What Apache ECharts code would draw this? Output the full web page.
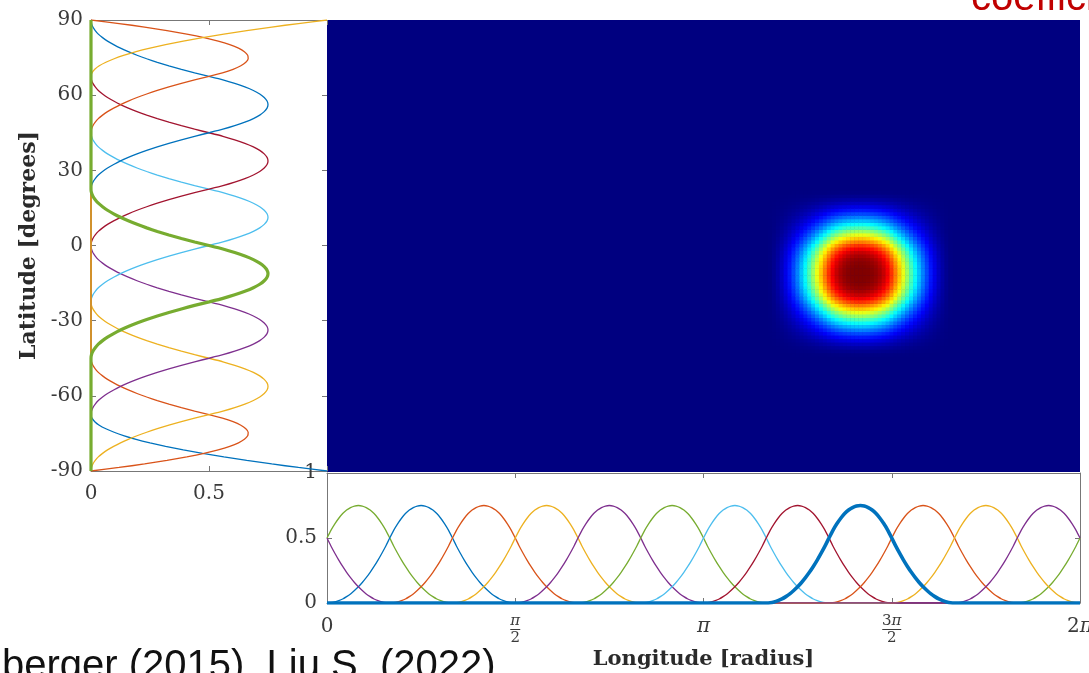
<!DOCTYPE html>
<html lang="en">
<head>
    <meta charset="UTF-8">
    <title>basis functions</title>
    <script src="https://cdn.jsdelivr.net/npm/echarts@6.0.0/dist/echarts.min.js"></script>
    <style>
        body {
            margin: 0;
            background: #fff;
        }

        #chart {
            width: 1089px;
            height: 673px;
        }
    </style>
</head>
<body>
    <div id="chart"></div>

    <script>
        // sampling: 16 samples per knot interval (22.5 deg in latitude, pi/6 in longitude)
        const SPK = 16
        const LAT_STEP = 22.5 / SPK
        const LON_STEP = Math.PI / 6 / SPK

        // shapes, one value per sample
        const midShape = [0, 0.002, 0.008, 0.018, 0.031, 0.049, 0.07, 0.096, 0.125, 0.158, 0.195, 0.236, 0.281, 0.33, 0.383, 0.439,
            0.5, 0.559, 0.609, 0.652, 0.688, 0.715, 0.734, 0.746, 0.75, 0.746, 0.734, 0.715, 0.688, 0.652, 0.609, 0.559,
            0.5, 0.439, 0.383, 0.33, 0.281, 0.236, 0.195, 0.158, 0.125, 0.096, 0.07, 0.049, 0.031, 0.018, 0.008, 0.002, 0]
        const poleShape = [1, 0.879, 0.766, 0.66, 0.563, 0.473, 0.391, 0.316, 0.25, 0.191, 0.141, 0.098, 0.063, 0.035, 0.016, 0.004, 0]
        const nearPoleShape = [0, 0.119, 0.227, 0.322, 0.406, 0.479, 0.539, 0.588, 0.625, 0.65, 0.664, 0.666, 0.656, 0.635, 0.602, 0.557,
            0.5, 0.439, 0.383, 0.33, 0.281, 0.236, 0.195, 0.158, 0.125, 0.096, 0.07, 0.049, 0.031, 0.018, 0.008, 0.002, 0]

        // latitude curves, south to north
        const latStart = [-90, -90, -90, -67.5, -45, -22.5, 0, 22.5, 45, 67.5]
        const latShape = [poleShape, nearPoleShape, midShape, midShape, midShape, midShape, midShape, midShape,
            [...nearPoleShape].reverse(), [...poleShape].reverse()]
        const latColor = ['#0072BD', '#D95319', '#EDB120', '#7E2F8E', '#77AC30', '#4DBEEE', '#A2142F', '#0072BD', '#D95319', '#EDB120']
        const latThick = 4

        // longitude curves (periodic), start in knot steps of pi/6
        const lonStart = [-1, 0, 1, 2, 3, 4, 5, 6, 7, 8, 9, 10]
        const lonColor = ['#77AC30', '#0072BD', '#D95319', '#EDB120', '#7E2F8E', '#77AC30', '#4DBEEE', '#A2142F', '#0072BD', '#D95319', '#EDB120', '#7E2F8E']
        const lonThick = 8

        const lonTickLabels = ['0', 'π/2', 'π', '3π/2', '2π']

        const NLAT = 8 * SPK
        const NLON = 12 * SPK
        const latGrid = []
        for (let j = 0; j <= NLAT; j++) latGrid.push(-90 + j * LAT_STEP)
        const lonGrid = []
        for (let i = 0; i <= NLON; i++) lonGrid.push(i * LON_STEP)

        function latValues(n) {
            let arr = new Array(latGrid.length).fill(0)
            let s = Math.round((latStart[n] + 90) / LAT_STEP)
            latShape[n].forEach((v, i) => arr[s + i] = v)
            return arr
        }

        function lonValues(k) {
            let arr = new Array(lonGrid.length).fill(0)
            let s = lonStart[k] * SPK
            midShape.forEach((v, i) => arr[((s + i) % NLON + NLON) % NLON] = v)
            arr[NLON] = arr[0]
            return arr
        }

        const latVals = latStart.map((_, n) => latValues(n))
        const lonVals = lonStart.map((_, k) => lonValues(k))

        // map = product of the two highlighted curves
        const heat = []
        for (let i = 0; i < NLON; i++) {
            for (let j = 0; j < NLAT; j++) {
                let v = lonVals[lonThick][i] * latVals[latThick][j]
                if (v > 0) heat.push([i, j, v])
            }
        }

        // jet colour scale, a bit stretched so the rings sit like in the original image
        function jet(t) {
            let c = x => Math.round(255 * Math.max(0, Math.min(1, x)))
            let r = c(1.5 - Math.abs(4 * t - 3)), g = c(1.5 - Math.abs(4 * t - 2)), b = c(1.5 - Math.abs(4 * t - 1))
            return 'rgb(' + r + ',' + g + ',' + b + ')'
        }
        const jetStops = []
        for (let k = 0; k <= 40; k++) jetStops.push(jet(1 - Math.pow(1 - k / 40, 1.6)))

        const serif = '"DejaVu Serif"'
        const lineCol = '#777'
        const txtCol = '#3a3a3a'

        // pi in italic, like the latex labels
        function piText(s, up, it) {
            return s.split('').map(c => c === 'π' ? '{' + it + '|π}' : '{' + up + '|' + c + '}').join('')
        }

        function fracLabel(v) {
            let s = lonTickLabels[Math.round(v / (Math.PI / 2))]
            if (s === undefined) return ''
            if (s.indexOf('/') < 0) return piText(s, 'a', 'ai')
            let p = s.split('/')
            return piText(p[0], 'n', 'ni') + '\n{' + (p[0].length > 1 ? 'bar2' : 'bar') + '| }\n{d|' + p[1] + '}'
        }

        let series = [{
            type: 'heatmap',
            xAxisIndex: 3,
            yAxisIndex: 3,
            data: heat,
            itemStyle: { borderWidth: 0 },
            emphasis: { disabled: true }
        }]

        let latOrder = latStart.map((_, n) => n).filter(n => n !== latThick).concat([latThick])
        latOrder.forEach(n => {
            series.push({
                type: 'line',
                xAxisIndex: 0,
                yAxisIndex: 0,
                showSymbol: false,
                smooth: 0.2,
                data: latGrid.map((lat, j) => [latVals[n][j], lat]),
                lineStyle: { color: latColor[n], width: n === latThick ? 3.2 : 1.3 },
                z: n === latThick ? 4 : 3
            })
        })

        let lonOrder = lonStart.map((_, k) => k).filter(k => k !== lonThick).concat([lonThick])
        lonOrder.forEach(k => {
            series.push({
                type: 'line',
                xAxisIndex: 4,
                yAxisIndex: 4,
                showSymbol: false,
                smooth: 0.2,
                data: lonGrid.map((x, i) => [x, lonVals[k][i]]),
                lineStyle: { color: lonColor[k], width: k === lonThick ? 3.6 : 1.3 },
                z: k === lonThick ? 4 : 3
            })
        })

        const tickIn = { show: true, inside: true, length: 5, lineStyle: { color: lineCol } }
        const axLine = { show: true, onZero: false, lineStyle: { color: lineCol, width: 1 } }
        const noLine = { show: false, onZero: false }
        const lbl = { color: txtCol, fontFamily: serif, fontSize: 20 }
        const nameStyle = { color: '#2a2a2a', fontFamily: serif, fontWeight: 'bold', fontSize: 21 }

        var myChart = echarts.init(document.getElementById('chart'))
        var option = {
            animation: false,
            grid: [
                { left: 91, top: 20, width: 236, height: 451, outerBoundsMode: 'none' },
                { left: 327, top: 20, width: 753, height: 452, show: true, backgroundColor: '#000080', borderWidth: 0, outerBoundsMode: 'none' },
                { left: 327 - 753 / NLON / 2, top: 20 + 451 / NLAT / 2, width: 753, height: 451, outerBoundsMode: 'none' },
                { left: 327, top: 473, width: 753, height: 130, outerBoundsMode: 'none' }
            ],
            xAxis: [
                {
                    gridIndex: 0, type: 'value', min: 0, max: 1, interval: 0.5,
                    axisLine: axLine, axisTick: tickIn, splitLine: { show: false },
                    axisLabel: Object.assign({ margin: 13, formatter: v => v === 1 ? '' : String(v) }, lbl)
                },
                {
                    gridIndex: 0, type: 'value', position: 'top', min: 0, max: 1, interval: 0.5,
                    axisLine: axLine, axisTick: tickIn, splitLine: { show: false }, axisLabel: { show: false }
                },
                { gridIndex: 1, type: 'value', show: false },
                { gridIndex: 2, type: 'category', show: false, data: lonGrid.slice(0, NLON).map((_, i) => i) },
                {
                    gridIndex: 3, type: 'value', min: 0, max: 2 * Math.PI, interval: Math.PI / 2,
                    axisLine: axLine, axisTick: tickIn, splitLine: { show: false },
                    axisLabel: {
                        margin: 12,
                        formatter: fracLabel,
                        rich: {
                            a: { color: txtCol, fontFamily: serif, fontSize: 20, lineHeight: 24 },
                            ai: { color: txtCol, fontFamily: serif, fontStyle: 'italic', fontSize: 20, lineHeight: 24 },
                            n: { color: txtCol, fontFamily: serif, fontSize: 15, lineHeight: 13 },
                            ni: { color: txtCol, fontFamily: serif, fontStyle: 'italic', fontSize: 15, lineHeight: 13 },
                            d: { color: txtCol, fontFamily: serif, fontSize: 15, lineHeight: 14 },
                            bar: { width: 10, height: 1, lineHeight: 3, fontSize: 1, backgroundColor: txtCol },
                            bar2: { width: 19, height: 1, lineHeight: 3, fontSize: 1, backgroundColor: txtCol }
                        }
                    },
                    name: 'Longitude [radius]', nameLocation: 'middle', nameGap: 46,
                    nameTextStyle: nameStyle
                },
                {
                    gridIndex: 3, type: 'value', position: 'top', min: 0, max: 2 * Math.PI, interval: Math.PI / 2,
                    axisLine: axLine, axisTick: tickIn, splitLine: { show: false }, axisLabel: { show: false }
                }
            ],
            yAxis: [
                {
                    gridIndex: 0, type: 'value', min: -90, max: 90, interval: 30,
                    axisLine: axLine, axisTick: tickIn, splitLine: { show: false },
                    axisLabel: Object.assign({ margin: 8 }, lbl),
                    name: 'Latitude [degrees]', nameLocation: 'middle', nameGap: 51,
                    nameTextStyle: Object.assign({}, nameStyle, { fontSize: 22 })
                },
                {
                    gridIndex: 0, type: 'value', position: 'right', min: -90, max: 90, interval: 30,
                    axisLine: noLine, axisTick: tickIn, splitLine: { show: false }, axisLabel: { show: false }
                },
                { gridIndex: 1, type: 'value', show: false },
                { gridIndex: 2, type: 'category', show: false, data: latGrid.slice(0, NLAT).map((_, j) => j) },
                {
                    gridIndex: 3, type: 'value', min: 0, max: 1, interval: 0.5,
                    axisLine: axLine, axisTick: tickIn, splitLine: { show: false },
                    axisLabel: Object.assign({ margin: 10 }, lbl)
                },
                {
                    gridIndex: 3, type: 'value', position: 'right', min: 0, max: 1, interval: 0.5,
                    axisLine: axLine, axisTick: tickIn, splitLine: { show: false }, axisLabel: { show: false }
                }
            ],
            visualMap: {
                show: false,
                seriesIndex: 0,
                dimension: 2,
                min: 0,
                max: 0.5625,
                inRange: { color: jetStops }
            },
            graphic: [
                {
                    type: 'text', left: 971, top: -21,
                    style: { text: 'coefficients', font: '40px Arial, "Liberation Sans"', fill: '#C00000' }
                },
                {
                    type: 'text', left: 2, top: 647,
                    style: { text: 'berger (2015), Liu S. (2022)', font: '40px Arial, "Liberation Sans"', fill: '#111' }
                }
            ],
            series: series
        }

        option && myChart.setOption(option)
    </script>
</body>
</html>
